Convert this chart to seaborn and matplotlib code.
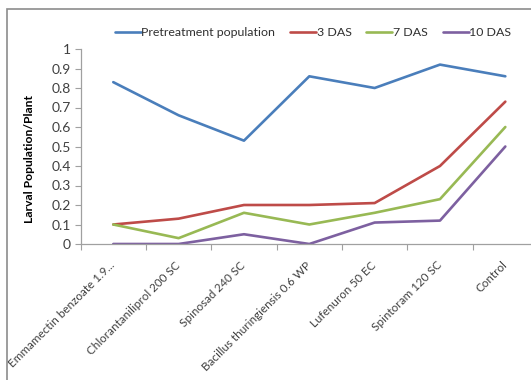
import matplotlib
matplotlib.use("Agg")
import matplotlib.pyplot as plt
import seaborn as sns
import pandas as pd
from matplotlib.patches import Rectangle
from matplotlib.transforms import ScaledTranslation

categories = ["Emmamectin benzoate 1.9...", "Chlorantaniliprol 200 SC", "Spinosad 240 SC",
              "Bacillus thuringiensis 0.6 WP", "Lufenuron 50 EC", "Spintoram 120 SC", "Control"]
pretreatment = [0.83, 0.66, 0.53, 0.86, 0.80, 0.92, 0.86]
das3 = [0.10, 0.13, 0.20, 0.20, 0.21, 0.40, 0.73]
das7 = [0.10, 0.03, 0.16, 0.10, 0.16, 0.23, 0.60]
das10 = [0.00, 0.00, 0.05, 0.00, 0.11, 0.12, 0.50]
series_names = ["Pretreatment population", "3 DAS", "7 DAS", "10 DAS"]
colors = ["#4A7EBB", "#BE4B48", "#98B954", "#7D60A0"]
yticks = [0, 0.1, 0.2, 0.3, 0.4, 0.5, 0.6, 0.7, 0.8, 0.9, 1]
ytick_labels = ["0", "0.1", "0.2", "0.3", "0.4", "0.5", "0.6", "0.7", "0.8", "0.9", "1"]

rows = []
for name, vals in zip(series_names, [pretreatment, das3, das7, das10]):
    for i, v in enumerate(vals):
        rows.append({"x": i, "value": v, "series": name})
df = pd.DataFrame(rows)

sns.set_theme(style="white")
plt.rcParams['font.family'] = ['Lato', 'DejaVu Sans']

W, H = 531, 380
fig = plt.figure(figsize=(W / 100, H / 100), dpi=100)
left_px, right_px, top_px, bot_px = 80.6, 538.0, 49.0, 244.0
ax = fig.add_axes([left_px / W, 1 - bot_px / H, (right_px - left_px) / W, (bot_px - top_px) / H])

sns.lineplot(data=df, x="x", y="value", hue="series", hue_order=series_names,
             palette=colors, linewidth=1.9, ax=ax, legend=True)

ax.set_xlim(-0.5, 6.5)
ax.set_ylim(0, 1)
ax.set_yticks(yticks)
ax.set_yticklabels(ytick_labels, fontsize=10, color="#404040")
ax.set_xticks(range(len(categories)))
ax.set_xticklabels(categories, rotation=45, ha="right", va="center", rotation_mode="anchor",
                   fontsize=8.4, color="#404040")
offset = ScaledTranslation(4 / 100, 0, fig.dpi_scale_trans)
for lbl in ax.get_xticklabels():
    lbl.set_transform(lbl.get_transform() + offset)
ax.set_xticks([i - 0.5 for i in range(len(categories) + 1)], minor=True)
ax.tick_params(axis="x", which="major", length=0, pad=14)
ax.tick_params(axis="x", which="minor", length=4, color="#A0A0A0", width=0.8, direction="out", bottom=True)
ax.tick_params(axis="y", which="major", length=4, color="#A0A0A0", width=0.8, direction="out", left=True, pad=3)
ax.set_xlabel("")
ax.set_ylabel("Larval Population/Plant", fontsize=8.7, fontweight="bold", color="black")
ax.yaxis.set_label_coords((35 - left_px) / (right_px - left_px), (bot_px - 159) / (bot_px - top_px))

for s in ["top", "right"]:
    ax.spines[s].set_visible(False)
for s in ["left", "bottom"]:
    ax.spines[s].set_color("#A0A0A0")
    ax.spines[s].set_linewidth(0.9)
ax.grid(False)

handles, labels = ax.get_legend_handles_labels()
ax.legend(handles, labels, ncol=4, frameon=False, loc="center",
          bbox_to_anchor=(313 / W, 1 - 33 / H), bbox_transform=fig.transFigure,
          fontsize=8.9, handlelength=2.1, handletextpad=0.05, columnspacing=1.2,
          labelcolor="#303030")

fig.patches.append(Rectangle((7 / W, -0.1), 1.2, 1 - 9 / H + 0.1, transform=fig.transFigure,
                             fill=False, edgecolor="#8C8C8C", linewidth=1.2, zorder=0))

fig.savefig("out.png", dpi=100)
